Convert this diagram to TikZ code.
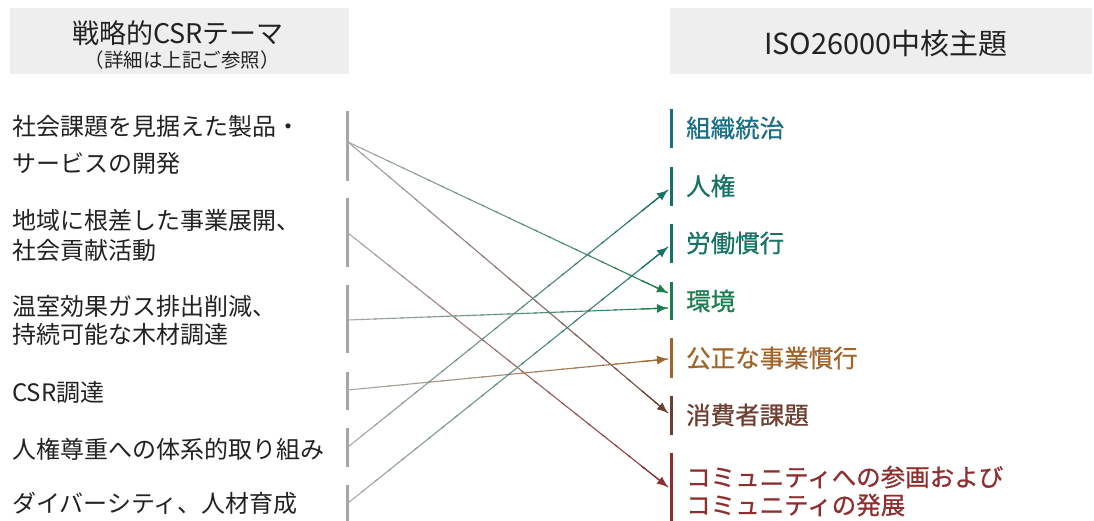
\documentclass[tikz,border=0pt]{standalone}
\usepackage{fontspec}
\setmainfont{Noto Sans CJK JP}
\newfontfamily\jpm[FakeBold=0.8]{Noto Sans CJK JP}
\usetikzlibrary{arrows.meta,calc}
\definecolor{bargray}{HTML}{A6A6A6}
\definecolor{hdrgray}{HTML}{EEEEEE}
\definecolor{txt}{HTML}{222222}
\definecolor{cGov}{HTML}{1A6E86}
\definecolor{cHR}{HTML}{177266}
\definecolor{cEnv}{HTML}{1E7D50}
\definecolor{cFair}{HTML}{A0652A}
\definecolor{cCons}{HTML}{6E3F33}
\definecolor{cComm}{HTML}{8F2E2E}
\definecolor{lgray}{HTML}{A8A8A8}
\newcommand\gradarrow[3]{%
  \foreach \k in {0,...,23}{%
    \pgfmathsetmacro\ta{\k/24}%
    \pgfmathsetmacro\tb{min((\k+1.2)/24,1)}%
    \pgfmathtruncatemacro\pc{(\k+0.5)*100/24}%
    \draw[conn,draw=#3!\pc!lgray] ($(#1)!\ta!(#2)$) -- ($(#1)!\tb!(#2)$);
  }%
  \draw[conn,draw=#3,-{Latex[length=11pt,width=9pt]}] ($(#1)!0.92!(#2)$) -- (#2);
}
\begin{document}
\begin{tikzpicture}[x=1pt,y=-1pt,
  conn/.style={line width=1.1pt},
  lbar/.style={draw=bargray,line width=3pt},
  rbar/.style={line width=3pt},
  hdr/.style={fill=hdrgray,draw=none},
  ltext/.style={inner sep=0pt,anchor=west,text=txt,font=\fontsize{24pt}{28pt}\selectfont,text height=21pt,text depth=3pt},
  rtext/.style={inner sep=0pt,anchor=west,font=\jpm\fontsize{24.5pt}{28pt}\selectfont,text height=21.5pt,text depth=3pt},
  htext/.style={inner sep=0pt,text=txt}]
\useasboundingbox (0,0) rectangle (1094,521);
% headers
\path[hdr] (10,8) rectangle (349,74);
\path[hdr] (670,8) rectangle (1092,74);
\node[htext,font=\fontsize{27pt}{30pt}\selectfont] (h1) at (178,33) {戦略的CSRテーマ};
\node[htext,font=\fontsize{19.5pt}{22pt}\selectfont] (h1s) at (182,60) {（詳細は上記ご参照）};
\node[htext,font=\fontsize{29pt}{32pt}\selectfont] (h2) at (886,44) {ISO26000中核主題};
% left texts
\node[ltext] (t1a) at (12,127) {社会課題を見据えた製品・};
\node[ltext] (t1b) at (12,164) {サービスの開発};
\node[ltext] (t2a) at (12,221) {地域に根差した事業展開、};
\node[ltext] (t2b) at (12,250) {社会貢献活動};
\node[ltext] (t3a) at (12,306) {温室効果ガス排出削減、};
\node[ltext] (t3b) at (12,334) {持続可能な木材調達};
\node[ltext] (t4) at (12,392) {CSR調達};
\node[ltext] (t5) at (12,449) {人権尊重への体系的取り組み};
\node[ltext] (t6) at (12,503) {ダイバーシティ、人材育成};
% left bars
\draw[lbar] (347,111) -- (347,181);
\draw[lbar] (347,198) -- (347,267);
\draw[lbar] (347,285) -- (347,353);
\draw[lbar] (347,372) -- (347,410);
\draw[lbar] (347,428) -- (347,467);
\draw[lbar] (347,485) -- (347,522);
% right bars
\draw[rbar,draw=cGov] (671,109) -- (671,148);
\draw[rbar,draw=cHR] (671,167) -- (671,206);
\draw[rbar,draw=cHR] (671,224) -- (671,263);
\draw[rbar,draw=cEnv] (671,282) -- (671,320);
\draw[rbar,draw=cFair] (671,338) -- (671,378);
\draw[rbar,draw=cCons] (671,396) -- (671,435);
\draw[rbar,draw=cComm] (671,453) -- (671,522);
% right texts
\node[rtext,text=cGov] (r1) at (686,128) {組織統治};
\node[rtext,text=cHR] (r2) at (686,186) {人権};
\node[rtext,text=cHR] (r3) at (686,243) {労働慣行};
\node[rtext,text=cEnv] (r4) at (686,301) {環境};
\node[rtext,text=cFair] (r5) at (686,358) {公正な事業慣行};
\node[rtext,text=cCons] (r6) at (686,415) {消費者課題};
\node[rtext,text=cComm] (r7a) at (686,477) {コミュニティへの参画および};
\node[rtext,text=cComm] (r7b) at (686,505) {コミュニティの発展};
% connector end points
\coordinate (s1) at (348,142);
\coordinate (s2) at (348,233);
\coordinate (s3) at (348,320);
\coordinate (s4) at (348,390);
\coordinate (s5) at (348,447);
\coordinate (s6) at (348,503);
\coordinate (eEnvA) at (668,293);
\coordinate (eEnvB) at (668,308);
\coordinate (eCons) at (668,413);
\coordinate (eComm) at (668,487);
\coordinate (eFair) at (668,359);
\coordinate (eHR) at (668,190);
\coordinate (eLab) at (668,247);
% connectors
\gradarrow{s1}{eEnvA}{cEnv}
\gradarrow{s1}{eCons}{cCons}
\gradarrow{s2}{eComm}{cComm}
\gradarrow{s3}{eEnvB}{cEnv}
\gradarrow{s4}{eFair}{cFair}
\gradarrow{s5}{eHR}{cHR}
\gradarrow{s6}{eLab}{cHR}
\end{tikzpicture}
\end{document}
